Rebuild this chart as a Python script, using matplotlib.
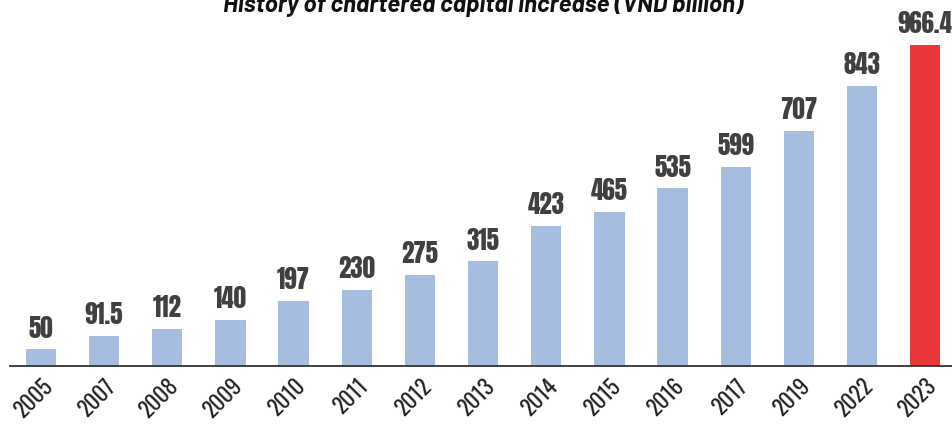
import matplotlib.pyplot as plt

years = ['2005', '2007', '2008', '2009', '2010', '2011', '2012', '2013',
         '2014', '2015', '2016', '2017', '2019', '2022', '2023']
capital = [50, 91.5, 112, 140, 197, 230, 275, 315, 423, 465, 535, 599, 707, 843, 966.4]
labels = ['50', '91.5', '112', '140', '197', '230', '275', '315',
          '423', '465', '535', '599', '707', '843', '966.4']

colors = ['#a7bde0'] * (len(years) - 1) + ['#e8363a']

fig = plt.figure(figsize=(9.53, 4.31), dpi=100)
ax = fig.add_axes([10 / 953, 64 / 431, 943 / 953, 367 / 431])

x = list(range(len(years)))
bars = ax.bar(x, capital, width=0.48, color=colors)

# value labels above each bar
for b, lab in zip(bars, labels):
    ax.annotate(lab, (b.get_x() + b.get_width() / 2, b.get_height()),
                xytext=(0, 7), textcoords='offset points', ha='center', va='bottom',
                fontsize=18, color='#404040',
                family=['Anton', 'DejaVu Sans'])

ax.set_xlim(-0.49, 14.44)
ax.set_ylim(0, 1105)
ax.set_xticks(x)
ax.set_xticklabels(years, rotation=45, ha='right', rotation_mode='anchor',
                   fontsize=16, color='#222222', fontweight='light',
                   family=['Oswald', 'DejaVu Sans'])
ax.tick_params(axis='x', length=0, pad=6)
ax.set_yticks([])
for s in ['top', 'right', 'left']:
    ax.spines[s].set_visible(False)
ax.spines['bottom'].set_color('#333333')
ax.spines['bottom'].set_linewidth(1.3)

fig.text(0.507, 1 - 12 / 431, 'History of chartered capital increase (VND billion)',
         ha='center', va='baseline', fontsize=17.5, fontweight='bold', style='italic',
         color='#111111', family=['Barlow', 'DejaVu Sans'])

fig.savefig('out.png', dpi=100)
